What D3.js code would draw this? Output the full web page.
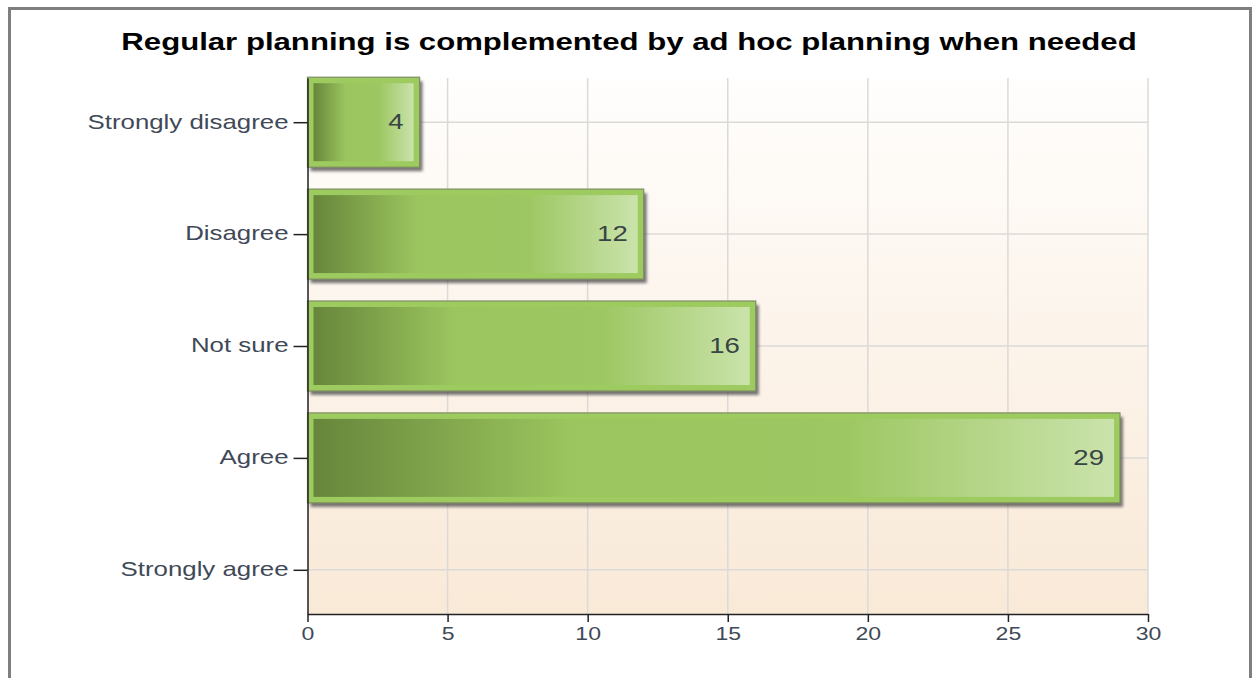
<!DOCTYPE html>
<meta charset="utf-8">
<style>
body { margin: 0; background: #fff; }
text { font-family: "Liberation Sans", Arial, sans-serif; }
.grid line { stroke: #dcdad8; stroke-width: 1.5px; }
.axis path, .axis line { stroke: #222; stroke-width: 1.5px; }
.axis text { fill: #3f4957; font-size: 18px; }
.ylab text { font-size: 19.5px; }
.val { fill: #394444; font-size: 21.5px; }
</style>
<svg width="1258" height="678"></svg>
<script src="https://d3js.org/d3.v7.min.js"></script>
<script>

var categories = ["Strongly disagree", "Disagree", "Not sure", "Agree", "Strongly agree"];
var counts = [4, 12, 16, 29, null];
var xTicks = [0, 5, 10, 15, 20, 25, 30];
var title = "Regular planning is complemented by ad hoc planning when needed";

var svg = d3.select("svg");
var sx = 1.28;   // text in the picture is stretched sideways
var sxLab = 1.325;
var plot = {left: 307.5, right: 1148, top: 78, bottom: 614};

var x = d3.scaleLinear().domain([0, 30]).range([plot.left, plot.right]);
var y = d3.scalePoint().domain(categories).range([plot.top, plot.bottom]).padding(0.395);
var barH = 90, inset = 6;

var defs = svg.append("defs");
var bg = defs.append("linearGradient").attr("id", "bg")
    .attr("x1", 0).attr("y1", 0).attr("x2", 0).attr("y2", 1);
bg.append("stop").attr("offset", 0).attr("stop-color", "#fffefd");
bg.append("stop").attr("offset", 1).attr("stop-color", "#f9e9d7");

var bar = defs.append("linearGradient").attr("id", "bar");
[[0, "#67863b"], [0.32, "#9bc55e"], [0.66, "#9dc762"], [1, "#cae3ab"]].forEach(function(s) {
  bar.append("stop").attr("offset", s[0]).attr("stop-color", s[1]);
});

defs.append("filter").attr("id", "shadow")
    .attr("x", "-10%").attr("y", "-10%").attr("width", "130%").attr("height", "140%")
  .append("feGaussianBlur").attr("stdDeviation", 1.8);

// frame
svg.append("rect")
    .attr("x", 9.5).attr("y", 8.5).attr("width", 1241).attr("height", 700)
    .attr("fill", "none").attr("stroke", "#7f7f7f").attr("stroke-width", 3);

svg.append("text")
    .attr("transform", "translate(629,49.5) scale(" + sxLab + ",1)")
    .attr("text-anchor", "middle")
    .style("font-size", "23.5px").style("font-weight", "bold").attr("fill", "#000")
    .text(title);

svg.append("rect")
    .attr("x", plot.left).attr("y", plot.top)
    .attr("width", plot.right - plot.left).attr("height", plot.bottom - plot.top)
    .attr("fill", "url(#bg)");

var grid = svg.append("g").attr("class", "grid");
grid.selectAll(".v").data(xTicks.slice(1)).enter().append("line")
    .attr("x1", x).attr("x2", x).attr("y1", plot.top).attr("y2", plot.bottom);
grid.selectAll(".h").data(categories).enter().append("line")
    .attr("x1", plot.left).attr("x2", plot.right)
    .attr("y1", function(d) { return y(d); }).attr("y2", function(d) { return y(d); });

var data = categories.map(function(c, i) { return {cat: c, v: counts[i]}; })
    .filter(function(d) { return d.v != null; });

var bars = svg.selectAll(".bar").data(data).enter().append("g").attr("class", "bar");

bars.append("rect")
    .attr("x", x(0) + 3).attr("y", function(d) { return y(d.cat) - barH / 2 + 4; })
    .attr("width", function(d) { return x(d.v) - x(0); }).attr("height", barH)
    .attr("fill", "#4a4a4a").attr("opacity", 0.75).attr("filter", "url(#shadow)");

bars.append("rect")
    .attr("x", x(0)).attr("y", function(d) { return y(d.cat) - barH / 2; })
    .attr("width", function(d) { return x(d.v) - x(0); }).attr("height", barH)
    .attr("fill", "#9dcb60").attr("stroke", "#7f8e63").attr("stroke-width", 1.2);

bars.append("rect")
    .attr("x", x(0) + inset).attr("y", function(d) { return y(d.cat) - barH / 2 + inset; })
    .attr("width", function(d) { return x(d.v) - x(0) - 2 * inset; }).attr("height", barH - 2 * inset)
    .attr("fill", "url(#bar)");

bars.append("text").attr("class", "val")
    .attr("text-anchor", "end")
    .attr("transform", function(d) {
      return "translate(" + (x(d.v) - 16) + "," + (y(d.cat) + 7) + ") scale(" + sx + ",1)";
    })
    .text(function(d) { return d.v; });

var yAxis = svg.append("g").attr("class", "axis ylab")
    .attr("transform", "translate(" + plot.left + ",0)")
    .call(d3.axisLeft(y).tickSize(14).tickSizeOuter(0).tickPadding(5));
yAxis.selectAll("text")
    .attr("x", -19 / sxLab).attr("dy", "0.3em")
    .attr("transform", "scale(" + sxLab + ",1)");

var xAxis = svg.append("g").attr("class", "axis")
    .attr("transform", "translate(0," + plot.bottom + ")")
    .call(d3.axisBottom(x).tickValues(xTicks).tickSize(8).tickSizeOuter(0).tickPadding(5));
xAxis.selectAll("text").attr("x", 0).attr("transform", "scale(" + sx + ",1)");

</script>
